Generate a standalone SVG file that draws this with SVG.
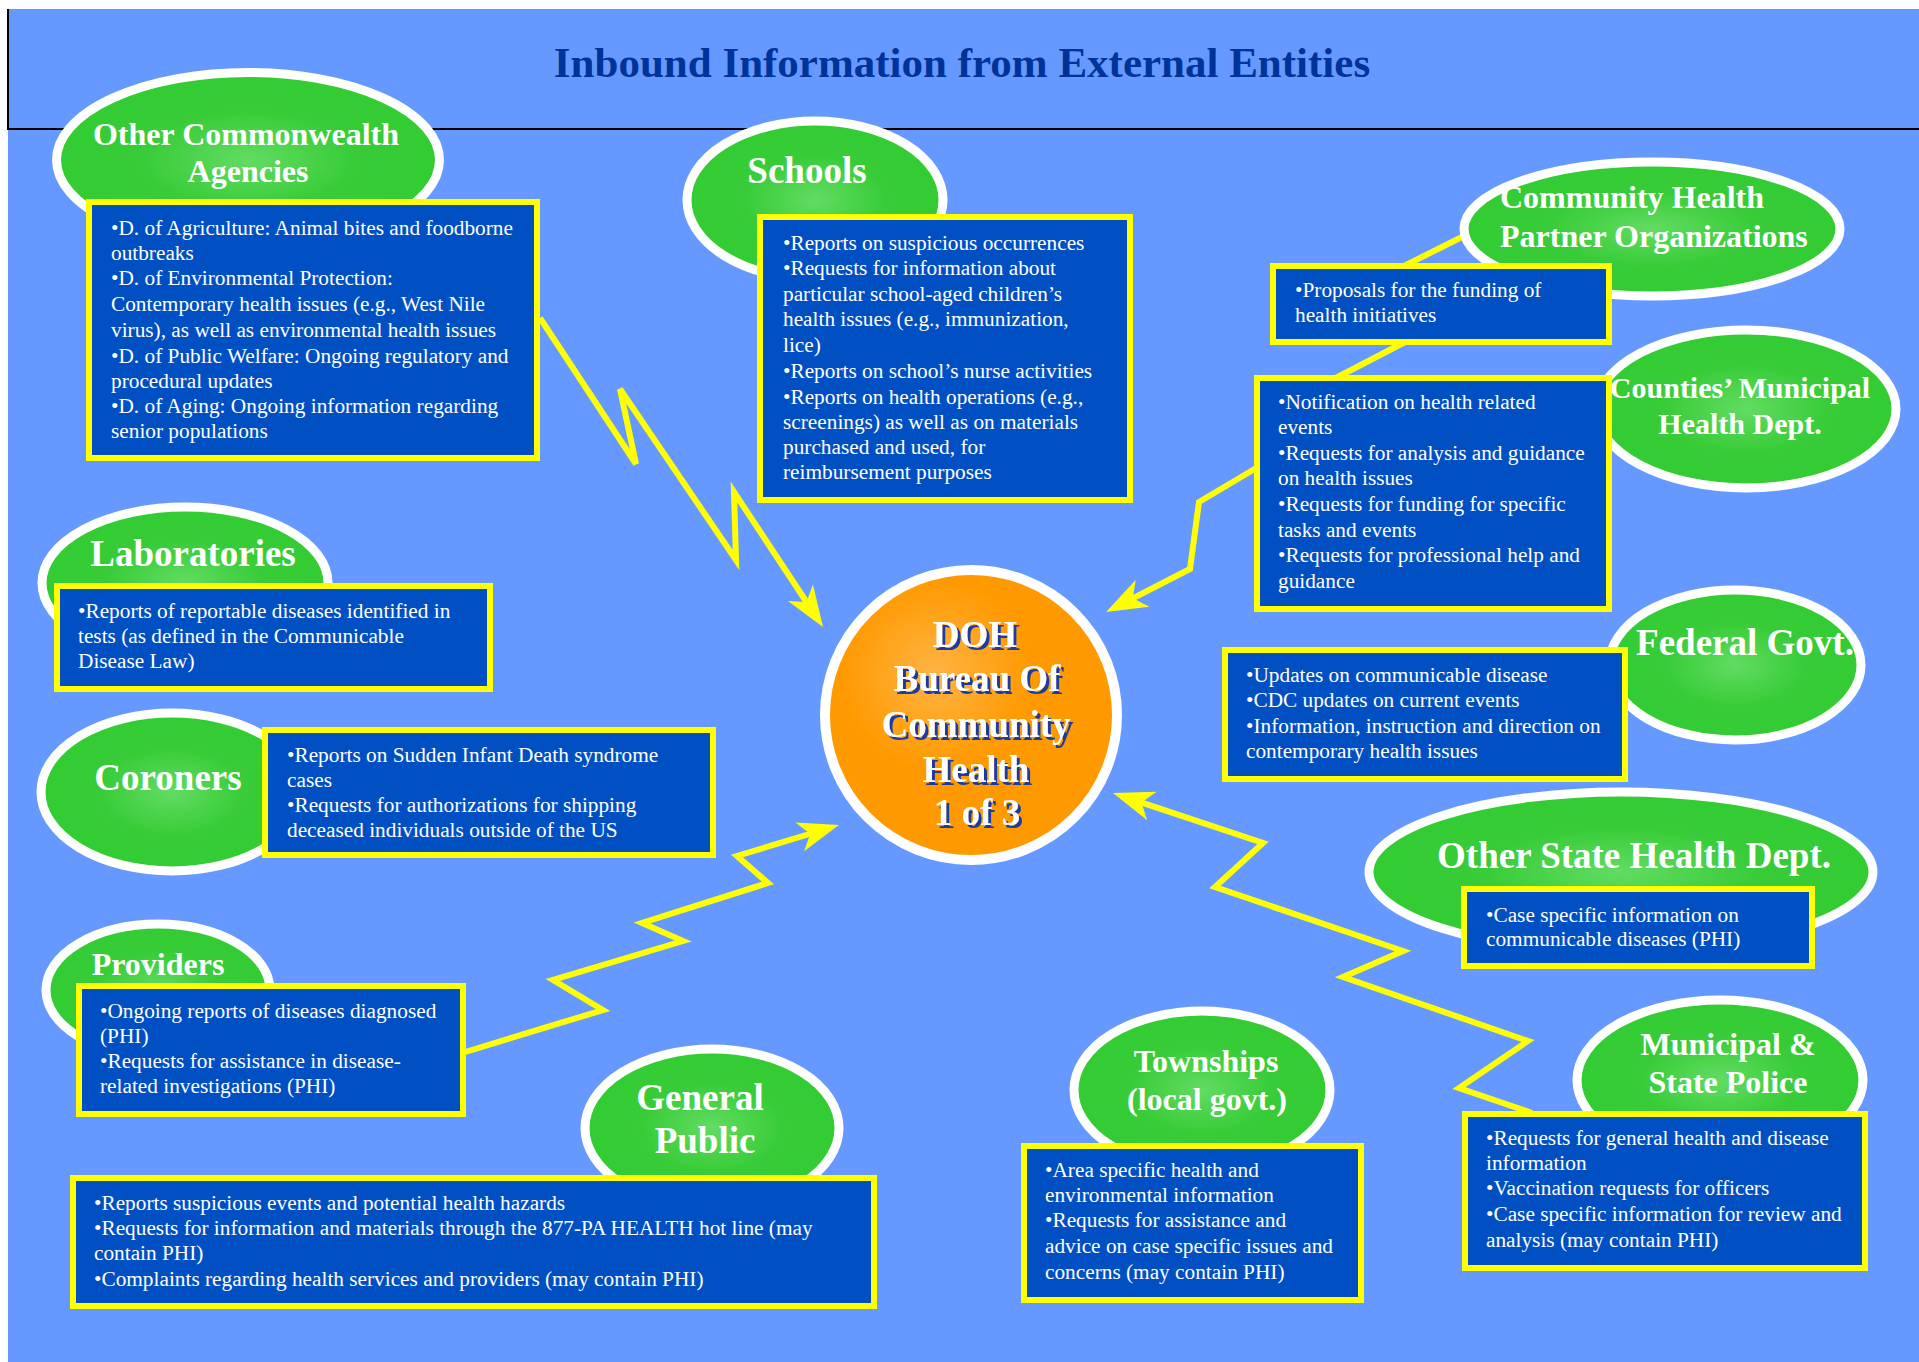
<svg xmlns="http://www.w3.org/2000/svg" width="1919" height="1362" viewBox="0 0 1919 1362">
<defs>
<radialGradient id="green" cx="50%" cy="50%" r="50%">
<stop offset="0" stop-color="#62DC62"/>
<stop offset="0.55" stop-color="#38CC38"/>
<stop offset="1" stop-color="#33CC33"/>
</radialGradient>
<radialGradient id="orange" cx="38%" cy="36%" r="55%">
<stop offset="0" stop-color="#FFB444"/>
<stop offset="0.6" stop-color="#FF9900"/>
<stop offset="1" stop-color="#FF9900"/>
</radialGradient>
<filter id="shadow" x="-10%" y="-10%" width="130%" height="130%">
<feDropShadow dx="3" dy="3" stdDeviation="0" flood-color="#1E3A9C" flood-opacity="1"/>
</filter>
<marker id="arr" markerUnits="userSpaceOnUse" viewBox="-12 -16 44 32" refX="6" refY="0" markerWidth="44" markerHeight="32" orient="auto">
<path d="M30,0 L-11,-15 L0,0 L-11,15 Z" fill="#FFFF00"/>
</marker>
<style>
.ell{fill:url(#green);stroke:#FFFFFF;stroke-width:9}
.box{fill:#0050C4;stroke:#FFFF00;stroke-width:6}
.nt{font-family:"Liberation Serif","Times New Roman",serif;font-weight:bold;fill:#FFFFFF;text-anchor:middle}
.bt{font-family:"Liberation Serif","Times New Roman",serif;font-size:21.3px;fill:#FFFFFF}
.con{fill:none;stroke:#FFFF00;stroke-width:6;stroke-linejoin:miter}
</style>
</defs>
<rect x="0" y="0" width="1919" height="1362" fill="#FFFFFF"/>
<rect x="8" y="9" width="1911" height="1353" fill="#6699FF"/>
<path d="M8,9 V129 H1919" fill="none" stroke="#000000" stroke-width="2"/>
<text x="962" y="77" font-family="Liberation Serif, Times New Roman, serif" font-weight="bold" font-size="43" fill="#003399" text-anchor="middle">Inbound Information from External Entities</text>

<g id="connectors">
<path class="con" d="M540,318 L636,464 L620,389 L736,560 L734,492 L809.8,607" marker-end="url(#arr)"/>
<path class="con" d="M1258,467 L1199,502 L1190,569 L1127.4,601.1" marker-end="url(#arr)"/>
<path class="con" d="M1468,234 L1398,269 M1407,341 L1330,381"/>
<path class="con" d="M462,1053 L603,1010 L553,980 L683,941 L642,923 L768,883 L737,856 L816,832" marker-end="url(#arr)"/>
<path class="con" d="M1532,1113 L1459,1088 L1528,1041 L1343,977 L1403,951 L1215,887 L1263,843 L1135.8,800.6" marker-end="url(#arr)"/>
</g>

<g id="node-doh">
<ellipse cx="971" cy="715" rx="146" ry="145" fill="url(#orange)" stroke="#FFFFFF" stroke-width="10"/>
<text class="nt" font-size="37" filter="url(#shadow)"><tspan x="975" y="647">DOH</tspan><tspan x="977" y="691">Bureau Of</tspan><tspan x="976" y="737">Community</tspan><tspan x="976" y="782">Health</tspan><tspan x="977" y="825">1 of 3</tspan></text>
</g>

<g id="node-other-commonwealth">
<ellipse class="ell" cx="248" cy="160" rx="191.5" ry="87.5"/>
<text class="nt" font-size="32"><tspan x="246" y="145">Other Commonwealth</tspan><tspan x="248" y="182">Agencies</tspan></text>
<rect class="box" x="89" y="202" width="448" height="256"/>
<text class="bt"><tspan x="111" y="235">•D. of Agriculture: Animal bites and foodborne</tspan><tspan x="111" y="260">outbreaks</tspan><tspan x="111" y="285">•D. of Environmental Protection:</tspan><tspan x="111" y="311">Contemporary health issues (e.g., West Nile</tspan><tspan x="111" y="337">virus), as well as environmental health issues</tspan><tspan x="111" y="363">•D. of Public Welfare: Ongoing regulatory and</tspan><tspan x="111" y="388">procedural updates</tspan><tspan x="111" y="413">•D. of Aging: Ongoing information regarding</tspan><tspan x="111" y="438">senior populations</tspan></text>
</g>

<g id="node-schools">
<ellipse class="ell" cx="815" cy="200" rx="128" ry="79"/>
<text class="nt" font-size="37" x="807" y="183">Schools</text>
<rect class="box" x="760" y="217" width="370" height="283"/>
<text class="bt"><tspan x="783" y="250">•Reports on suspicious occurrences</tspan><tspan x="783" y="275">•Requests for information about</tspan><tspan x="783" y="301">particular school-aged children’s</tspan><tspan x="783" y="326">health issues (e.g., immunization,</tspan><tspan x="783" y="352">lice)</tspan><tspan x="783" y="378">•Reports on school’s nurse activities</tspan><tspan x="783" y="404">•Reports on health operations (e.g.,</tspan><tspan x="783" y="429">screenings) as well as on materials</tspan><tspan x="783" y="454">purchased and used, for</tspan><tspan x="783" y="479">reimbursement purposes</tspan></text>
</g>

<g id="node-community-health">
<ellipse class="ell" cx="1652" cy="229" rx="188" ry="67"/>
<text class="nt" font-size="32" style="text-anchor:start"><tspan x="1500" y="208">Community Health</tspan><tspan x="1500" y="247">Partner Organizations</tspan></text>
<rect class="box" x="1273" y="266" width="336" height="76"/>
<text class="bt"><tspan x="1295" y="297">•Proposals for the funding of</tspan><tspan x="1295" y="322">health initiatives</tspan></text>
</g>

<g id="node-counties">
<ellipse class="ell" cx="1746" cy="409" rx="150" ry="79"/>
<text class="nt" font-size="30"><tspan x="1740" y="398">Counties’ Municipal</tspan><tspan x="1740" y="434">Health Dept.</tspan></text>
<rect class="box" x="1257" y="378" width="352" height="231"/>
<text class="bt"><tspan x="1278" y="409">•Notification on health related</tspan><tspan x="1278" y="434">events</tspan><tspan x="1278" y="460">•Requests for analysis and guidance</tspan><tspan x="1278" y="485">on health issues</tspan><tspan x="1278" y="511">•Requests for funding for specific</tspan><tspan x="1278" y="537">tasks and events</tspan><tspan x="1278" y="562">•Requests for professional help and</tspan><tspan x="1278" y="588">guidance</tspan></text>
</g>

<g id="node-laboratories">
<ellipse class="ell" cx="185" cy="583" rx="143" ry="76"/>
<text class="nt" font-size="37" x="193" y="566">Laboratories</text>
<rect class="box" x="57" y="586" width="433" height="103"/>
<text class="bt"><tspan x="78" y="618">•Reports of reportable diseases identified in</tspan><tspan x="78" y="643">tests (as defined in the Communicable</tspan><tspan x="78" y="668">Disease Law)</tspan></text>
</g>

<g id="node-coroners">
<ellipse class="ell" cx="172" cy="792" rx="131" ry="79"/>
<text class="nt" font-size="37" x="168" y="790">Coroners</text>
<rect class="box" x="265" y="730" width="448" height="125"/>
<text class="bt"><tspan x="287" y="762">•Reports on Sudden Infant Death syndrome</tspan><tspan x="287" y="787">cases</tspan><tspan x="287" y="812">•Requests for authorizations for shipping</tspan><tspan x="287" y="837">deceased individuals outside of the US</tspan></text>
</g>

<g id="node-federal">
<ellipse class="ell" cx="1735" cy="665" rx="126" ry="75"/>
<text class="nt" font-size="37" x="1745" y="655">Federal Govt.</text>
<rect class="box" x="1225" y="650" width="400" height="129"/>
<text class="bt"><tspan x="1246" y="682">•Updates on communicable disease</tspan><tspan x="1246" y="707">•CDC updates on current events</tspan><tspan x="1246" y="733">•Information, instruction and direction on</tspan><tspan x="1246" y="758">contemporary health issues</tspan></text>
</g>

<g id="node-other-state">
<ellipse class="ell" cx="1621" cy="872" rx="252" ry="80"/>
<text class="nt" font-size="37" x="1634" y="868">Other State Health Dept.</text>
<rect class="box" x="1464" y="889" width="348" height="77"/>
<text class="bt"><tspan x="1486" y="922">•Case specific information on</tspan><tspan x="1486" y="946">communicable diseases (PHI)</tspan></text>
</g>

<g id="node-providers">
<ellipse class="ell" cx="158" cy="990" rx="112" ry="66"/>
<text class="nt" font-size="32" x="158" y="975">Providers</text>
<rect class="box" x="79" y="986" width="384" height="128"/>
<text class="bt"><tspan x="100" y="1018">•Ongoing reports of diseases diagnosed</tspan><tspan x="100" y="1043">(PHI)</tspan><tspan x="100" y="1068">•Requests for assistance in disease-</tspan><tspan x="100" y="1093">related investigations (PHI)</tspan></text>
</g>

<g id="node-general-public">
<ellipse class="ell" cx="712" cy="1128" rx="127" ry="79"/>
<text class="nt" font-size="37"><tspan x="700" y="1110">General</tspan><tspan x="705" y="1153">Public</tspan></text>
<rect class="box" x="73" y="1178" width="801" height="128"/>
<text class="bt"><tspan x="94" y="1210">•Reports suspicious events and potential health hazards</tspan><tspan x="94" y="1235">•Requests for information and materials through the 877-PA HEALTH hot line (may</tspan><tspan x="94" y="1260">contain PHI)</tspan><tspan x="94" y="1286">•Complaints regarding health services and providers (may contain PHI)</tspan></text>
</g>

<g id="node-townships">
<ellipse class="ell" cx="1202" cy="1090" rx="128" ry="79"/>
<text class="nt" font-size="32"><tspan x="1206" y="1072">Townships</tspan><tspan x="1207" y="1110">(local govt.)</tspan></text>
<rect class="box" x="1024" y="1146" width="337" height="154"/>
<text class="bt"><tspan x="1045" y="1177">•Area specific health and</tspan><tspan x="1045" y="1202">environmental information</tspan><tspan x="1045" y="1227">•Requests for assistance and</tspan><tspan x="1045" y="1253">advice on case specific issues and</tspan><tspan x="1045" y="1279">concerns (may contain PHI)</tspan></text>
</g>

<g id="node-police">
<ellipse class="ell" cx="1720" cy="1080" rx="143" ry="80"/>
<text class="nt" font-size="32"><tspan x="1728" y="1055">Municipal &amp;</tspan><tspan x="1728" y="1093">State Police</tspan></text>
<rect class="box" x="1465" y="1114" width="400" height="154"/>
<text class="bt"><tspan x="1486" y="1145">•Requests for general health and disease</tspan><tspan x="1486" y="1170">information</tspan><tspan x="1486" y="1195">•Vaccination requests for officers</tspan><tspan x="1486" y="1221">•Case specific information for review and</tspan><tspan x="1486" y="1247">analysis (may contain PHI)</tspan></text>
</g>
</svg>
